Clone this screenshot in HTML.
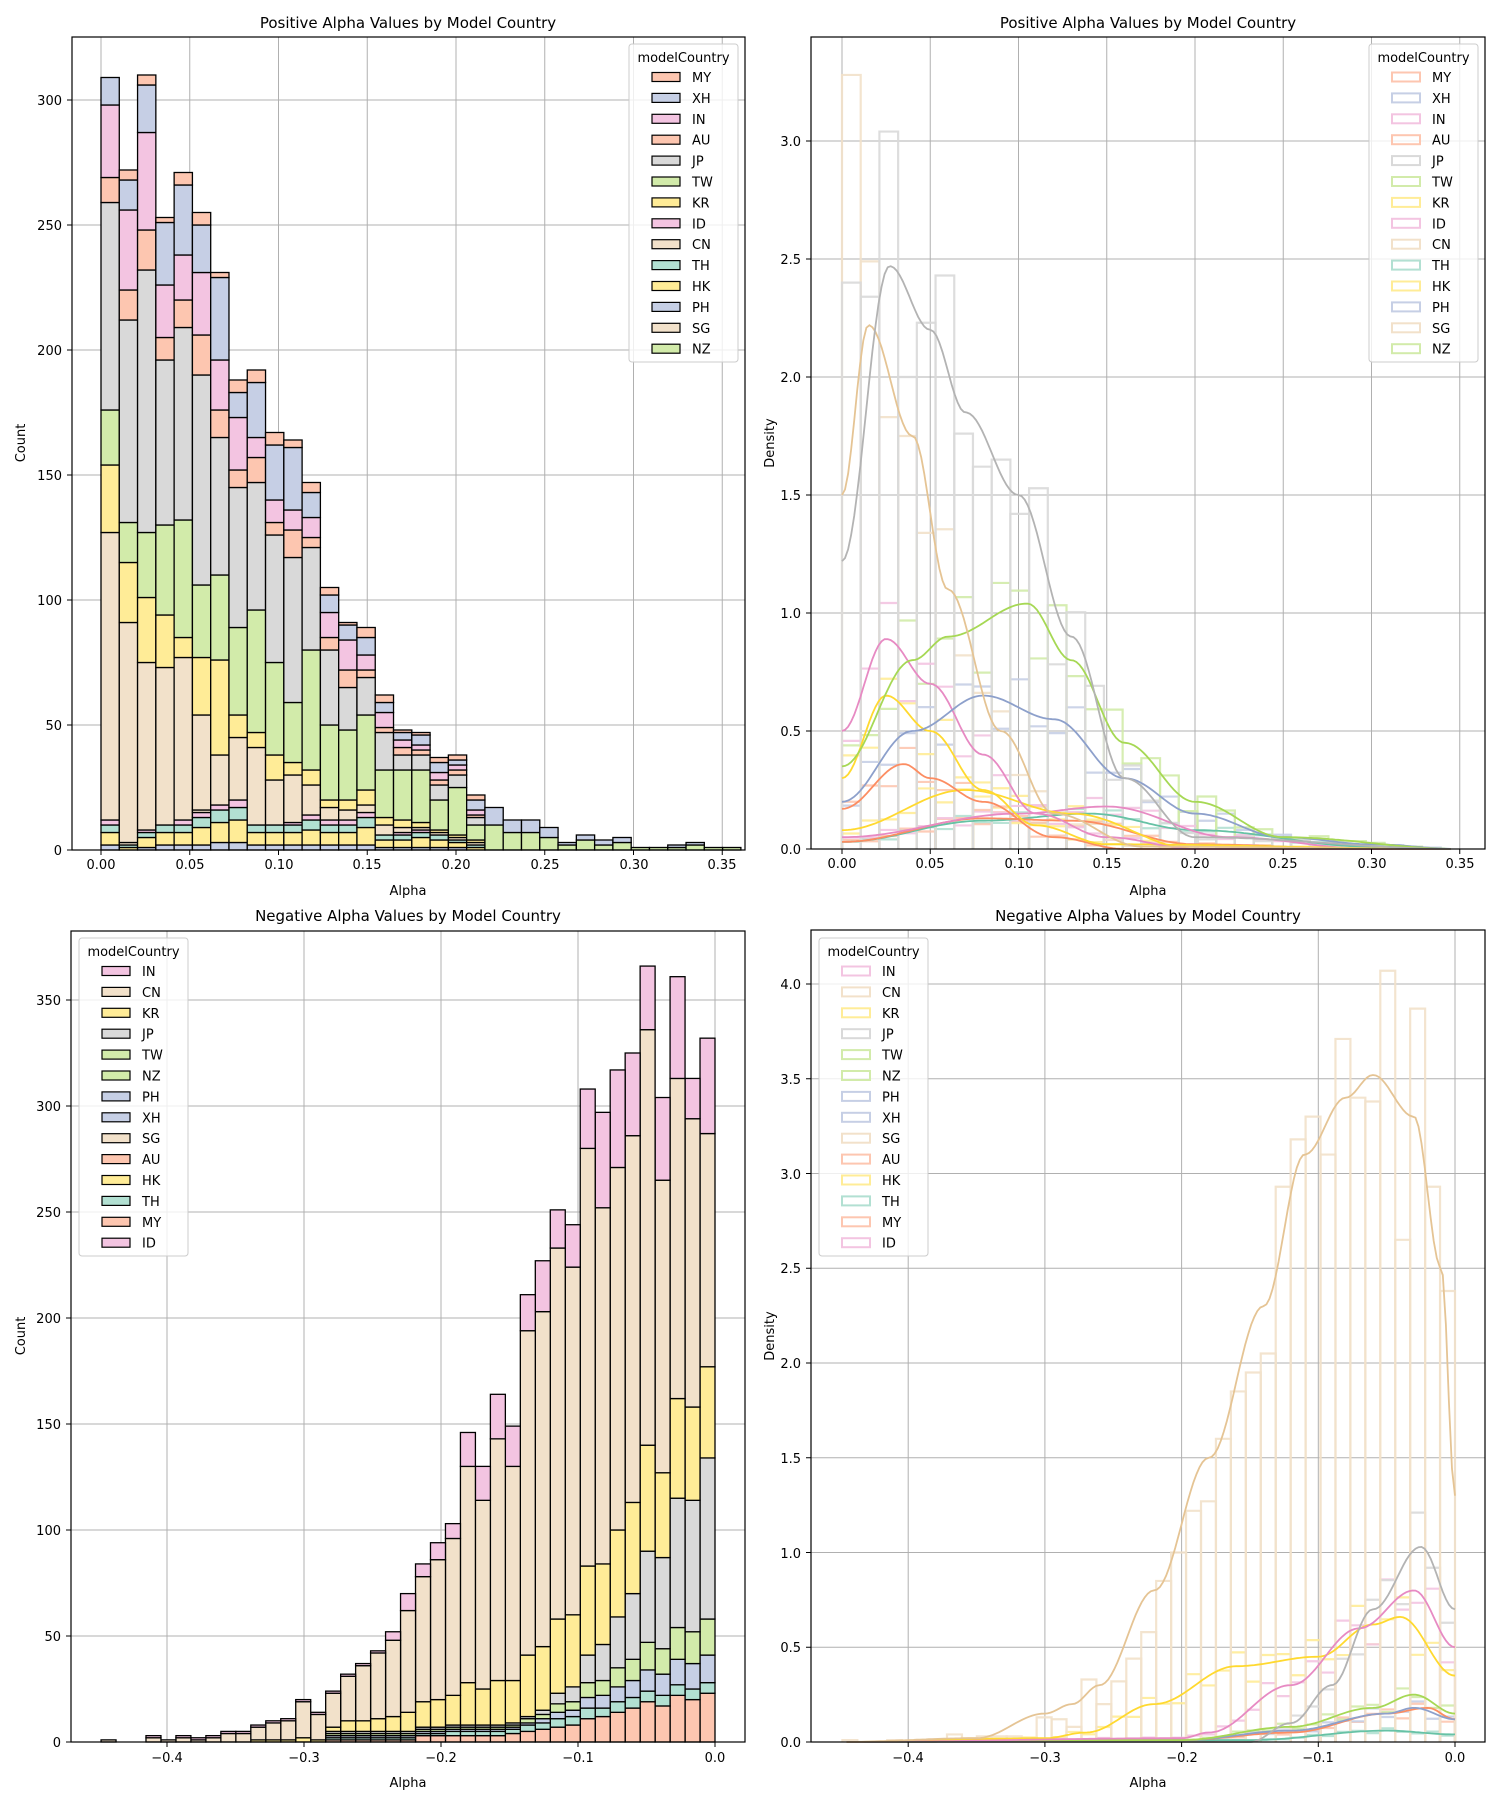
<!DOCTYPE html>
<html><head><meta charset="utf-8">
<style>
html,body{margin:0;padding:0;background:#fff;}
svg{display:block;font-family:"DejaVu Sans","Liberation Sans",sans-serif;}
text{fill:#000;}
</style></head><body>
<svg id="s" width="1500" height="1800" viewBox="0 0 1500 1800" xmlns="http://www.w3.org/2000/svg">
<rect width="1500" height="1800" fill="#fff"/>
<g id="grid" stroke="#b0b0b0" stroke-width="1"></g>
<g id="data"></g>
<g id="frames" fill="none" stroke="#000" stroke-width="1.2">
<rect x="72" y="37" width="673" height="813"/>
<rect x="811" y="37" width="674" height="812"/>
<rect x="71" y="931" width="674" height="811"/>
<rect x="811" y="930" width="674" height="812"/>
</g>
<g font-size="13">
<text x="408" y="28" font-size="15" text-anchor="middle">Positive Alpha Values by Model Country</text>
<text x="1148" y="28" font-size="15" text-anchor="middle">Positive Alpha Values by Model Country</text>
<text x="408" y="921" font-size="15" text-anchor="middle">Negative Alpha Values by Model Country</text>
<text x="1148" y="921" font-size="15" text-anchor="middle">Negative Alpha Values by Model Country</text>
<text x="408" y="895" text-anchor="middle">Alpha</text>
<text x="1148" y="895" text-anchor="middle">Alpha</text>
<text x="408" y="1787" text-anchor="middle">Alpha</text>
<text x="1148" y="1787" text-anchor="middle">Alpha</text>
<text transform="translate(25,443) rotate(-90)" text-anchor="middle">Count</text>
<text transform="translate(774,443) rotate(-90)" text-anchor="middle">Density</text>
<text transform="translate(25,1336) rotate(-90)" text-anchor="middle">Count</text>
<text transform="translate(774,1336) rotate(-90)" text-anchor="middle">Density</text>
<g text-anchor="middle">
<text x="101" y="869">0.00</text><text x="190" y="869">0.05</text><text x="279" y="869">0.10</text><text x="367" y="869">0.15</text><text x="456" y="869">0.20</text><text x="545" y="869">0.25</text><text x="634" y="869">0.30</text><text x="722" y="869">0.35</text>
<text x="842" y="868">0.00</text><text x="930" y="868">0.05</text><text x="1019" y="868">0.10</text><text x="1107" y="868">0.15</text><text x="1195" y="868">0.20</text><text x="1283" y="868">0.25</text><text x="1372" y="868">0.30</text><text x="1460" y="868">0.35</text>
<text x="167" y="1762">−0.4</text><text x="304" y="1762">−0.3</text><text x="441" y="1762">−0.2</text><text x="578" y="1762">−0.1</text><text x="715" y="1762">0.0</text>
<text x="908" y="1762">−0.4</text><text x="1045" y="1762">−0.3</text><text x="1182" y="1762">−0.2</text><text x="1318" y="1762">−0.1</text><text x="1455" y="1762">0.0</text>
</g>
<g text-anchor="end">
<text x="62" y="855">0</text><text x="62" y="730">50</text><text x="62" y="605">100</text><text x="62" y="480">150</text><text x="62" y="355">200</text><text x="62" y="230">250</text><text x="62" y="105">300</text>
<text x="801" y="854">0.0</text><text x="801" y="736">0.5</text><text x="801" y="618">1.0</text><text x="801" y="500">1.5</text><text x="801" y="382">2.0</text><text x="801" y="264">2.5</text><text x="801" y="146">3.0</text>
<text x="61" y="1747">0</text><text x="61" y="1641">50</text><text x="61" y="1535">100</text><text x="61" y="1429">150</text><text x="61" y="1323">200</text><text x="61" y="1217">250</text><text x="61" y="1111">300</text><text x="61" y="1005">350</text>
<text x="801" y="1747">0.0</text><text x="801" y="1652">0.5</text><text x="801" y="1558">1.0</text><text x="801" y="1463">1.5</text><text x="801" y="1368">2.0</text><text x="801" y="1273">2.5</text><text x="801" y="1179">3.0</text><text x="801" y="1084">3.5</text><text x="801" y="989">4.0</text>
</g>
</g>
<g id="ticks" stroke="#000" stroke-width="1"></g>
<g id="legends" font-size="13"></g>
</svg>
<script>
var NS="http://www.w3.org/2000/svg";
function el(p,t,a){var e=document.createElementNS(NS,t);for(var k in a)e.setAttribute(k,a[k]);document.getElementById(p).appendChild(e);return e;}
var C={o:"#fdc6b0",b:"#c6cfe5",p:"#f3c4e1",l:"#d2ebaa",y:"#ffec97",t:"#f2e1ca",g:"#d9d9d9",gr:"#b2e0d2"};
var S={o:"#fc8d62",b:"#8da0cb",p:"#e78ac3",l:"#a6d854",y:"#ffd92f",t:"#e5c494",g:"#b3b3b3",gr:"#66c2a5"};
var TLx=function(v){return 101+v*1775;},TLy=function(c){return 850-c*2.5;};
var TRx=function(v){return 842+v*1765;},TRy=function(d){return 849-d*236;};
var BLx=function(v){return 715+v*1370;},BLy=function(c){return 1742-c*2.12;};
var BRx=function(v){return 1455+v*1367;},BRy=function(d){return 1742-d*189.5;};
function grid(xs,ys,x0,x1,y0,y1){xs.forEach(function(x){el("grid","line",{x1:x,x2:x,y1:y0,y2:y1});el("ticks","line",{x1:x,x2:x,y1:y1,y2:y1+5});});
ys.forEach(function(y){el("grid","line",{x1:x0,x2:x1,y1:y,y2:y});el("ticks","line",{x1:x0-5,x2:x0,y1:y,y2:y});});}
var a=[],b=[];for(var i=0;i<8;i++)a.push(TLx(i*0.05));for(i=0;i<7;i++)b.push(TLy(i*50));grid(a,b,72,745,37,850);
a=[];b=[];for(i=0;i<8;i++)a.push(TRx(i*0.05));for(i=0;i<7;i++)b.push(TRy(i*0.5));grid(a,b,811,1485,37,849);
a=[];b=[];for(i=0;i<5;i++)a.push(BLx(-0.4+i*0.1));for(i=0;i<8;i++)b.push(BLy(i*50));grid(a,b,71,745,931,1742);
a=[];b=[];for(i=0;i<5;i++)a.push(BRx(-0.4+i*0.1));for(i=0;i<9;i++)b.push(BRy(i*0.5));grid(a,b,811,1485,930,1742);
var w=0.0103;
var cols=["y","t","y","l","g","o","p","b","o"];
var tops=[[12,127,154,176,259,269,298,309,309],[3,91,115,131,212,224,256,268,272],[8,75,101,127,232,248,287,306,310],[10,73,94,130,196,205,226,251,253],[12,77,85,132,209,220,238,266,271],[16,54,77,106,190,206,231,250,255],[18,38,76,110,165,176,196,229,231],[20,45,54,89,145,152,173,183,188],[10,41,47,96,147,157,165,187,192],[10,28,38,75,126,131,140,162,167],[11,30,35,59,117,128,136,161,164],[14,26,32,80,121,125,133,143,147],[12,17,20,50,80,85,95,102,105],[12,16,20,48,65,72,84,90,91],[15,18,24,54,69,72,78,85,89],[6,10,13,32,47,49,55,59,62],[7,9,12,32,38,41,44,47,48],[8,9,11,32,38,40,42,46,47],[6,7,8,20,26,28,31,35,37],[4,5,6,25,30,32,34,36,38],[2,3,4,10,13,14,16,20,22]];
var tail=[17,12,12,9,3,6,4,5,1,1,2,3,1,1];
function bar(x0,x1,y0,y1,f){el("data","rect",{x:x0,y:Math.min(y0,y1),width:x1-x0,height:Math.abs(y1-y0),fill:f,stroke:"#000","stroke-width":1.3});}
tops.forEach(function(t,i){var x0=TLx(i*w),x1=TLx((i+1)*w),prev=0;t.forEach(function(v,j){if(v>prev){
if(j==0){var parts=[["b",0.15],["y",0.45],["gr",0.25],["p",0.15]];var acc=0;parts.forEach(function(q){var h=Math.max(0,Math.round(v*q[1]));if(acc+h>v)h=v-acc;if(h>0){bar(x0,x1,TLy(acc),TLy(acc+h),C[q[0]]);acc+=h;}});if(acc<v)bar(x0,x1,TLy(acc),TLy(v),C.t);}
else bar(x0,x1,TLy(prev),TLy(v),C[cols[j]]);prev=v;}});});
tail.forEach(function(v,k){var i=k+21,x0=TLx(i*w),x1=TLx((i+1)*w);var l=Math.round(v*0.6);bar(x0,x1,TLy(0),TLy(l),C.l);bar(x0,x1,TLy(l),TLy(v),C.b);});
function ip(p,v){if(v<=p[0][0])return p[0][1];for(var i=0;i<p.length-1;i++){if(v<=p[i+1][0]){var t=(v-p[i][0])/(p[i+1][0]-p[i][0]);t=(1-Math.cos(Math.PI*t))/2;return p[i][1]+(p[i+1][1]-p[i][1])*t;}}return p[p.length-1][1];}
function curve(p,X,Y,a0,a1,col){var d="";for(var v=a0;v<=a1+1e-9;v+=(a1-a0)/200){d+=(d?"L":"M")+X(v).toFixed(1)+","+Y(ip(p,v)).toFixed(1);}el("data","path",{d:d,fill:"none",stroke:col,"stroke-width":1.8});}
function steps(p,X,Y,bw,n,start,col,seed,over){for(var i=0;i<n;i++){var v0=start+i*bw,c=v0+bw/2;var h=ip(p,c)*(1+0.22*Math.sin(i*2.3+seed));if(over&&over[i]!=null)h=over[i];if(h<0.004)continue;var xa=X(v0),xb=X(v0+bw);el("data","path",{d:"M"+xa+","+Y(0)+"L"+xa+","+Y(h)+"L"+xb+","+Y(h)+"L"+xb+","+Y(0),fill:"none",stroke:C[col],"stroke-width":2.2,"stroke-opacity":0.9});}}
var bw=0.0106;
var tr={
t:[[0,1.5],[0.015,2.22],[0.04,1.75],[0.06,1.1],[0.09,0.5],[0.12,0.15],[0.17,0.01],[0.35,0]],
g:[[0,1.22],[0.027,2.47],[0.05,2.2],[0.07,1.85],[0.1,1.5],[0.13,0.9],[0.16,0.3],[0.2,0.05],[0.35,0]],
l:[[0,0.35],[0.04,0.8],[0.06,0.9],[0.105,1.04],[0.13,0.8],[0.16,0.45],[0.2,0.2],[0.25,0.05],[0.35,0]],
b:[[0,0.2],[0.04,0.5],[0.08,0.65],[0.12,0.55],[0.16,0.3],[0.2,0.15],[0.25,0.05],[0.3,0.02],[0.35,0]],
p:[[0,0.5],[0.025,0.89],[0.05,0.7],[0.08,0.4],[0.11,0.15],[0.15,0.05],[0.2,0],[0.35,0]],
y:[[0,0.3],[0.025,0.65],[0.05,0.5],[0.08,0.25],[0.11,0.1],[0.15,0.02],[0.35,0]],
o:[[0,0.17],[0.035,0.36],[0.05,0.3],[0.08,0.2],[0.12,0.05],[0.16,0],[0.35,0]],
y2:[[0,0.08],[0.07,0.25],[0.13,0.15],[0.2,0],[0.35,0]],
gr:[[0,0.03],[0.08,0.12],[0.14,0.15],[0.2,0.08],[0.3,0.01],[0.35,0]],
p2:[[0,0.05],[0.1,0.15],[0.15,0.18],[0.22,0.05],[0.3,0]],
o2:[[0,0.03],[0.08,0.13],[0.13,0.12],[0.2,0.02],[0.3,0]]};
var ord=[["gr","gr"],["o2","o"],["p2","p"],["y2","y"],["o","o"],["y","y"],["p","p"],["b","b"],["l","l"],["t","t"],["g","g"]];
var ovT={0:3.28,1:2.49,2:1.83,3:1.75};var ovG={0:2.4,1:2.34,2:3.04,3:2.0,4:2.23,5:2.43,6:1.76,7:1.62,8:1.65,9:1.42};
ord.forEach(function(q,k){steps(tr[q[0]],TRx,TRy,bw,33,0,q[1],k*1.7,q[0]=="t"?ovT:q[0]=="g"?ovG:null);});
ord.forEach(function(q){curve(tr[q[0]],TRx,TRy,0,0.345,S[q[1]]);});
var T=[332,313,361,304,366,325,317,297,308,244,251,227,211,149,164,130,146,103,94,84,70,52,43,37,32,24,14,20,11,10,8,5,5,3,2,3,1,3,0,0,1];
var pinkTop=[287,294,313,265,336,286,271,252,280,224,233,203,194,130,143,114,130,96,86,78,62,48,42,36,31,23,13,19,10,9,7,4,4,2,1,2,1,2,0,0,1];
var bwn=0.01093;
T.forEach(function(t,i){var x1=BLx(-i*bwn),x0=BLx(-(i+1)*bwn);var pt=Math.min(pinkTop[i],t);
var f=Math.max(0,1-i/14);var segs=[["o",0.06*f*t+(i<20?3:0)],["gr",0.015*t],["b",0.04*f*t],["l",0.05*f*t],["g",0.23*f*f*t],["y",(i<25?0.15:0.08)*pt]];
var prev=0;segs.forEach(function(s){var v=Math.round(s[1]);if(v<1&&t>20)v=1;if(prev+v>pt)v=pt-prev;if(v>0){bar(x0,x1,BLy(prev),BLy(prev+v),C[s[0]]);prev+=v;}});
if(pt>prev){bar(x0,x1,BLy(prev),BLy(pt),C.t);prev=pt;}if(t>prev)bar(x0,x1,BLy(prev),BLy(t),C.p);});
var br={
t:[[-0.45,0],[-0.35,0.02],[-0.3,0.15],[-0.28,0.2],[-0.26,0.3],[-0.22,0.8],[-0.18,1.5],[-0.14,2.3],[-0.11,3.1],[-0.08,3.4],[-0.06,3.52],[-0.03,3.3],[-0.01,2.5],[0,1.3]],
g:[[-0.45,0],[-0.15,0],[-0.12,0.1],[-0.09,0.3],[-0.06,0.7],[-0.025,1.03],[0,0.7]],
p:[[-0.45,0],[-0.2,0.02],[-0.18,0.05],[-0.12,0.3],[-0.07,0.6],[-0.03,0.8],[0,0.5]],
y:[[-0.45,0],[-0.3,0.02],[-0.27,0.05],[-0.22,0.2],[-0.16,0.4],[-0.1,0.45],[-0.06,0.62],[-0.04,0.66],[0,0.35]],
l:[[-0.45,0],[-0.2,0.01],[-0.12,0.08],[-0.06,0.18],[-0.03,0.25],[0,0.15]],
b:[[-0.45,0],[-0.2,0.01],[-0.12,0.06],[-0.05,0.15],[-0.03,0.18],[0,0.12]],
o:[[-0.45,0],[-0.2,0.01],[-0.12,0.05],[-0.05,0.15],[-0.02,0.18],[0,0.12]],
gr:[[-0.45,0],[-0.15,0.01],[-0.05,0.06],[0,0.04]]};
var ovBT={};var tv=[2.38,2.93,3.87,2.65,4.07,3.38,3.4,3.71,3.1,3.3,3.18,2.93,2.05,1.95,1.85,1.6,1.27,1.22,1.0,0.85,0.58,0.44,0.32,0.2,0.33,0.08,0.12,0.13,0.02,0.03,0.03,0.03,0.02,0.04,0,0.01,0,0.01,0,0,0.01];
tv.forEach(function(v,i){ovBT[40-i]=v;});
var ordB=[["gr","gr"],["o","o"],["b","b"],["l","l"],["y","y"],["p","p"],["g","g"],["t","t"]];
ordB.forEach(function(q,k){steps(br[q[0]],BRx,BRy,bwn,41,-41*bwn,q[1],k*1.3,q[0]=="t"?ovBT:null);});
ordB.forEach(function(q){curve(br[q[0]],BRx,BRy,-0.445,0,S[q[1]]);});
function legend(x,y,names,colsL,filled){el("legends","rect",{x:x,y:y,width:109,height:318,fill:"#fff","fill-opacity":0.8,stroke:"#ccc",rx:3});
var t=el("legends","text",{x:x+54.5,y:y+18,"text-anchor":"middle"});t.textContent="modelCountry";
names.forEach(function(n,i){var yy=y+33+i*20.9;el("legends","rect",{x:x+23,y:yy-4.5,width:28,height:9,fill:filled?C[colsL[i]]:"none",stroke:filled?"#000":C[colsL[i]],"stroke-width":filled?1.2:2});
var tt=el("legends","text",{x:x+63,y:yy+5});tt.textContent=n;});}
var n1=["MY","XH","IN","AU","JP","TW","KR","ID","CN","TH","HK","PH","SG","NZ"],c1=["o","b","p","o","g","l","y","p","t","gr","y","b","t","l"];
var n2=["IN","CN","KR","JP","TW","NZ","PH","XH","SG","AU","HK","TH","MY","ID"],c2=["p","t","y","g","l","l","b","b","t","o","y","gr","o","p"];
legend(629,44,n1,c1,true);legend(1369,44,n1,c1,false);legend(79,938,n2,c2,true);legend(819,938,n2,c2,false);
</script>
</body></html>
